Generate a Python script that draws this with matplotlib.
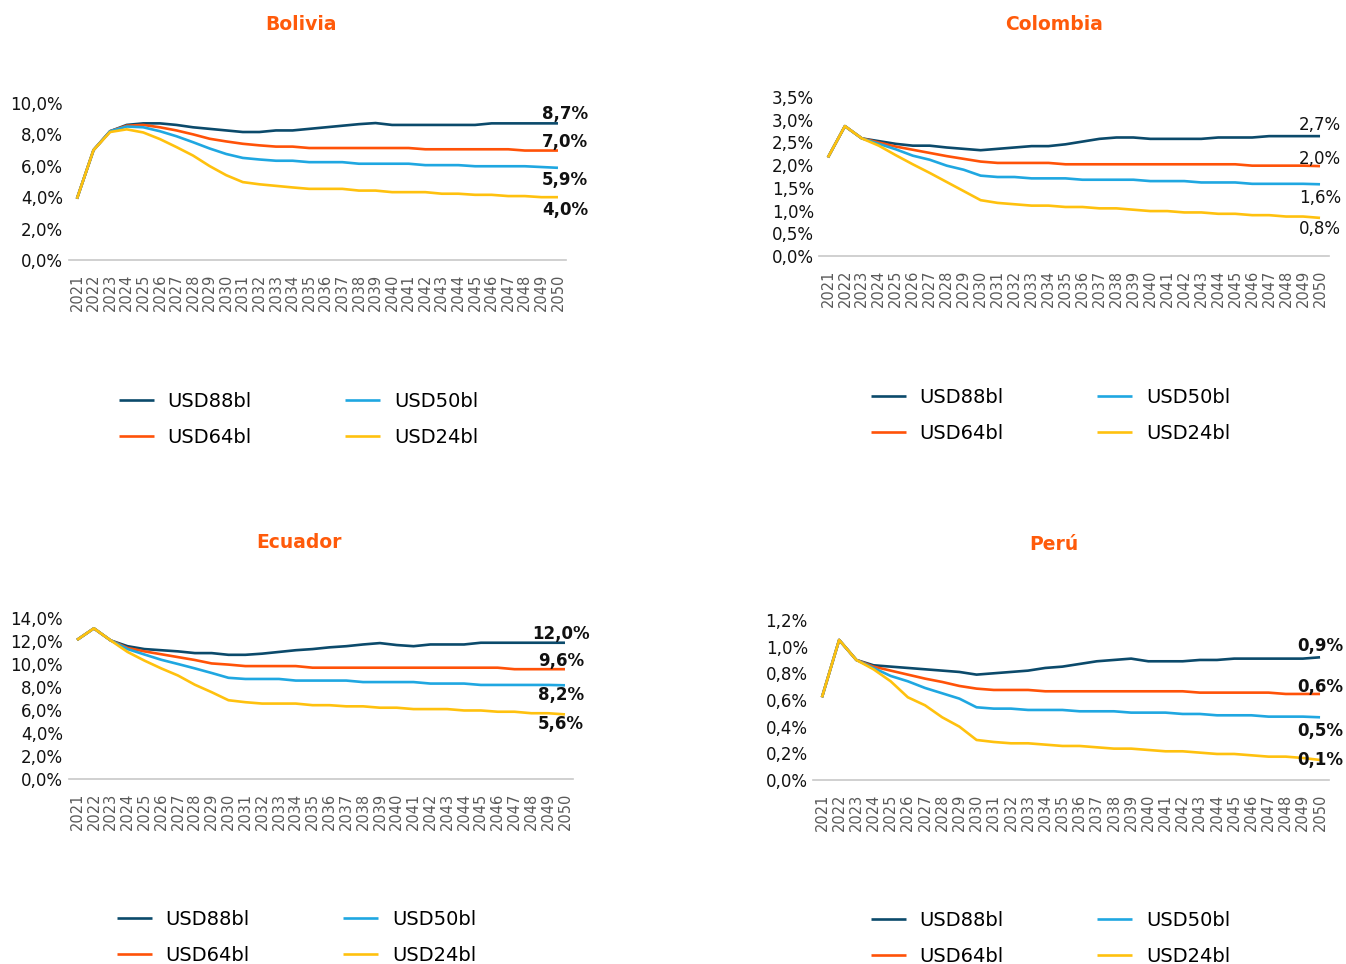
import matplotlib
matplotlib.use("Agg")
import matplotlib.pyplot as plt
from matplotlib.ticker import FuncFormatter

plt.rcParams["font.family"] = ["DejaVu Sans"]

years = [str(y) for y in range(2021, 2051)]
series_names = ["USD88bl", "USD64bl", "USD50bl", "USD24bl"]

bolivia_88 = [3.9, 7.0, 8.2, 8.6, 8.7, 8.7, 8.6, 8.45, 8.35, 8.25, 8.15, 8.15, 8.25, 8.25, 8.35,
              8.45, 8.55, 8.65, 8.72, 8.6, 8.6, 8.6, 8.6, 8.6, 8.6, 8.7, 8.7, 8.7, 8.7, 8.7]
bolivia_64 = [3.9, 7.0, 8.2, 8.55, 8.6, 8.45, 8.25, 8.0, 7.72, 7.55, 7.4, 7.3, 7.22, 7.22, 7.13,
              7.13, 7.13, 7.13, 7.13, 7.13, 7.13, 7.05, 7.05, 7.05, 7.05, 7.05, 7.05, 6.97, 6.97, 6.97]
bolivia_50 = [3.9, 7.0, 8.2, 8.5, 8.45, 8.2, 7.88, 7.5, 7.1, 6.75, 6.5, 6.4, 6.32, 6.32, 6.23,
              6.23, 6.23, 6.13, 6.13, 6.13, 6.13, 6.04, 6.04, 6.04, 5.97, 5.97, 5.97, 5.97, 5.92, 5.87]
bolivia_24 = [3.9, 7.0, 8.15, 8.32, 8.12, 7.7, 7.19, 6.65, 5.98, 5.4, 4.96, 4.82, 4.72, 4.62, 4.53,
              4.53, 4.53, 4.42, 4.42, 4.32, 4.32, 4.32, 4.22, 4.22, 4.15, 4.15, 4.07, 4.07, 4.0, 4.0]

colombia_88 = [2.17, 2.86, 2.59, 2.53, 2.47, 2.43, 2.43, 2.39, 2.36, 2.33, 2.36, 2.39, 2.42, 2.42, 2.46,
               2.52, 2.58, 2.61, 2.61, 2.58, 2.58, 2.58, 2.58, 2.61, 2.61, 2.61, 2.64, 2.64, 2.64, 2.64]
colombia_64 = [2.17, 2.86, 2.59, 2.5, 2.41, 2.34, 2.27, 2.2, 2.14, 2.08, 2.05, 2.05, 2.05, 2.05, 2.02,
               2.02, 2.02, 2.02, 2.02, 2.02, 2.02, 2.02, 2.02, 2.02, 2.02, 1.99, 1.99, 1.99, 1.99, 1.98]
colombia_50 = [2.17, 2.86, 2.59, 2.47, 2.35, 2.21, 2.12, 1.99, 1.9, 1.77, 1.74, 1.74, 1.71, 1.71, 1.71,
               1.68, 1.68, 1.68, 1.68, 1.65, 1.65, 1.65, 1.62, 1.62, 1.62, 1.59, 1.59, 1.59, 1.59, 1.58]
colombia_24 = [2.17, 2.86, 2.59, 2.43, 2.22, 2.02, 1.83, 1.63, 1.43, 1.23, 1.17, 1.14, 1.11, 1.11, 1.08,
               1.08, 1.05, 1.05, 1.02, 0.99, 0.99, 0.96, 0.96, 0.93, 0.93, 0.9, 0.9, 0.87, 0.87, 0.84]

ecuador_88 = [12.1, 13.1, 12.05, 11.55, 11.3, 11.2, 11.1, 10.95, 10.95, 10.8, 10.8, 10.9, 11.05, 11.2, 11.3,
              11.45, 11.55, 11.7, 11.82, 11.65, 11.55, 11.7, 11.7, 11.7, 11.85, 11.85, 11.85, 11.85, 11.85, 11.85]
ecuador_64 = [12.1, 13.1, 12.05, 11.4, 11.1, 10.85, 10.6, 10.35, 10.05, 9.95, 9.82, 9.82, 9.82, 9.82, 9.68,
              9.68, 9.68, 9.68, 9.68, 9.68, 9.68, 9.68, 9.68, 9.68, 9.68, 9.68, 9.55, 9.55, 9.55, 9.55]
ecuador_50 = [12.1, 13.1, 12.05, 11.3, 10.83, 10.37, 10.0, 9.62, 9.22, 8.8, 8.7, 8.7, 8.7, 8.56, 8.56,
              8.56, 8.56, 8.43, 8.43, 8.43, 8.43, 8.3, 8.3, 8.3, 8.18, 8.18, 8.18, 8.18, 8.18, 8.15]
ecuador_24 = [12.1, 13.1, 12.05, 11.05, 10.3, 9.62, 9.0, 8.2, 7.55, 6.85, 6.68, 6.56, 6.56, 6.56, 6.42,
              6.42, 6.32, 6.32, 6.2, 6.2, 6.08, 6.08, 6.08, 5.96, 5.96, 5.85, 5.85, 5.72, 5.72, 5.62]

peru_88 = [0.62, 1.05, 0.9, 0.86, 0.85, 0.84, 0.83, 0.82, 0.81, 0.79, 0.8, 0.81, 0.82, 0.84, 0.85,
           0.87, 0.89, 0.9, 0.91, 0.89, 0.89, 0.89, 0.9, 0.9, 0.91, 0.91, 0.91, 0.91, 0.91, 0.92]
peru_64 = [0.62, 1.05, 0.9, 0.85, 0.82, 0.79, 0.76, 0.735, 0.705, 0.685, 0.675, 0.675, 0.675, 0.665, 0.665,
           0.665, 0.665, 0.665, 0.665, 0.665, 0.665, 0.665, 0.655, 0.655, 0.655, 0.655, 0.655, 0.645, 0.645, 0.645]
peru_50 = [0.62, 1.05, 0.9, 0.84, 0.78, 0.74, 0.69, 0.65, 0.61, 0.545, 0.535, 0.535, 0.525, 0.525, 0.525,
           0.515, 0.515, 0.515, 0.505, 0.505, 0.505, 0.495, 0.495, 0.485, 0.485, 0.485, 0.475, 0.475, 0.475, 0.47]
peru_24 = [0.62, 1.05, 0.9, 0.83, 0.74, 0.62, 0.56, 0.47, 0.4, 0.3, 0.285, 0.275, 0.275, 0.265, 0.255,
           0.255, 0.245, 0.235, 0.235, 0.225, 0.215, 0.215, 0.205, 0.195, 0.195, 0.185, 0.175, 0.175, 0.165, 0.15]

end_labels = {
    "Bolivia": ["8,7%", "7,0%", "5,9%", "4,0%"],
    "Colombia": ["2,7%", "2,0%", "1,6%", "0,8%"],
    "Ecuador": ["12,0%", "9,6%", "8,2%", "5,6%"],
    "Perú": ["0,9%", "0,6%", "0,5%", "0,1%"],
}

colors = ["#0b4a6b", "#ff5208", "#1fa7e1", "#ffc10e"]
title_color = "#ff5a0a"
tick_gray = "#595959"


def pct(v, _):
    return f"{v:.1f}%".replace(".", ",")


# name, data, y ticks, axes rect, label offsets (pts), bold end labels, legend anchor, title pos, label dx
panels = [
    ("Bolivia", [bolivia_88, bolivia_64, bolivia_50, bolivia_24], [0, 2, 4, 6, 8, 10],
     [0.051, 0.7303, 0.3697, 0.1629], [7, 6, -9, -9], True, (119, 392), (301, 25), 5),
    ("Colombia", [colombia_88, colombia_64, colombia_50, colombia_24], [0, 0.5, 1, 1.5, 2, 2.5, 3, 3.5],
     [0.6088, 0.7344, 0.3782, 0.1649], [8, 5, -10, -8], False, (871, 388), (1054, 25), 0),
    ("Ecuador", [ecuador_88, ecuador_64, ecuador_50, ecuador_24], [0, 2, 4, 6, 8, 10, 12, 14],
     [0.051, 0.1919, 0.375, 0.167], [6, 6, -7, -7], True, (117, 910), (299, 543), -3),
    ("Perú", [peru_88, peru_64, peru_50, peru_24], [0, 0.2, 0.4, 0.6, 0.8, 1.0, 1.2],
     [0.6043, 0.1909, 0.3828, 0.166], [8, 5, -10, 0], True, (871, 911), (1054, 545), 0),
]

fig = plt.figure(figsize=(13.46, 9.64), dpi=100)

for name, data, yticks, rect, offs, bold, leg_pos, title_pos, dx in panels:
    ax = fig.add_axes(rect)
    x = list(range(len(years)))
    lines = []
    for vals, col, lab in zip(data, colors, series_names):
        ln, = ax.plot(x, vals, color=col, lw=1.9, label=lab, solid_capstyle="butt")
        lines.append(ln)
    ax.set_xlim(-0.5, len(years) - 0.5)
    ax.set_ylim(0, yticks[-1])
    ax.set_yticks(yticks)
    ax.yaxis.set_major_formatter(FuncFormatter(pct))
    ax.set_xticks(x)
    ax.set_xticklabels(years, rotation=90, fontsize=10.5, color=tick_gray)
    ax.tick_params(axis="both", length=0)
    ax.tick_params(axis="y", labelsize=12, pad=4, labelcolor="#111111")
    ax.tick_params(axis="x", pad=10)
    for s in ["top", "right", "left"]:
        ax.spines[s].set_visible(False)
    ax.spines["bottom"].set_color("#c8c8c8")
    ax.spines["bottom"].set_linewidth(1.2)

    for vals, lab, off in zip(data, end_labels[name], offs):
        ax.annotate(lab, xy=(x[-1], vals[-1]), xytext=(dx, off), textcoords="offset points",
                    ha="center", va="center", fontsize=12,
                    fontweight="bold" if bold else "normal", color="#111111",
                    annotation_clip=False)

    fig.text(title_pos[0] / 1346, 1 - title_pos[1] / 964, name, ha="center", va="center",
             fontsize=13.5, fontweight="bold", color=title_color)

    fig.legend(handles=lines, loc="upper left", ncol=2, frameon=False, fontsize=14,
               bbox_to_anchor=(leg_pos[0] / 1346, 1 - leg_pos[1] / 964),
               borderpad=0, borderaxespad=0, handlelength=1.8, handletextpad=0.7,
               columnspacing=4.8, labelspacing=0.85)

fig.savefig("out.png", dpi=100)
